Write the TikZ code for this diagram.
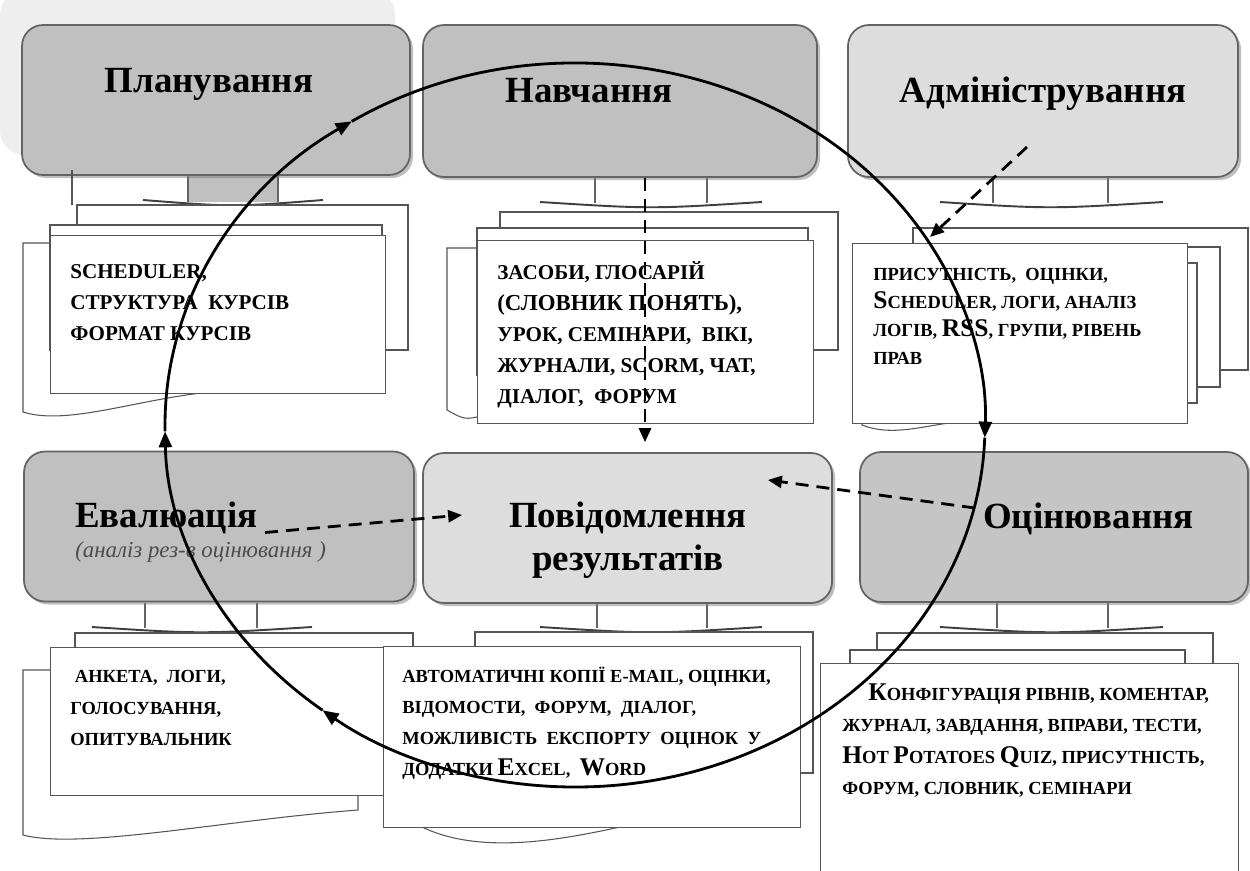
\documentclass[tikz,border=0pt]{standalone}
\usepackage{fontspec}
\setmainfont{Liberation Serif}
\usepackage{tikz}
\usetikzlibrary{arrows.meta, positioning, shadows}
\definecolor{hdBase}{RGB}{192,192,192}
\definecolor{hdLight}{RGB}{221,221,221}
\definecolor{hdEdge}{RGB}{100,100,100}
\definecolor{docEdge}{RGB}{85,85,85}
\definecolor{haloGray}{RGB}{238,238,238}
\newcommand{\capx}[1]{{\fontsize{14.5}{17}\selectfont #1}}

\begin{document}
\begin{tikzpicture}[
    head/.style={rectangle, draw=hdEdge, line width=1pt, fill=hdBase, rounded corners=12pt, minimum width=7.8cm, minimum height=3.0cm, drop shadow={shadow xshift=0.06cm, shadow yshift=-0.06cm, opacity=0.5}},
    lt/.style={fill=hdLight},
    htxt/.style={font=\bfseries\fontsize{21}{24.4}\selectfont, inner sep=0pt},
    stemline/.style={draw=hdEdge, line width=0.8pt},
    brace/.style={draw=black!75, line width=1.1pt},
    doc/.style={draw=docEdge, line width=0.6pt, fill=white},
    itm/.style={anchor=north west, inner sep=0pt, align=left, font=\bfseries\fontsize{10.5}{17.6}\selectfont},
    itmbig/.style={font=\bfseries\fontsize{12}{17.6}\selectfont},
    cyc/.style={-{Triangle[length=3.2mm, width=2.6mm]}, line width=1.6pt},
    darr/.style={-{Triangle[length=2.8mm, width=2.4mm]}, line width=1.6pt, dash pattern=on 0.26cm off 0.16cm},
]
\useasboundingbox (0,0) rectangle (25,-17.4);
\clip (0,0) rectangle (25,-17.4);
\fill[white] (0,0) rectangle (25,-17.4);

% soft grey halo behind the first header
\fill[haloGray, rounded corners=14pt] (0,0.2) rectangle (7.9,-3.1);

% ========== STEMS under the headers ==========
\fill[hdBase] (3.76,-3.5) rectangle (5.56,-4.04);
\draw[stemline] (3.76,-3.5) -- (3.76,-4.04) (5.56,-3.5) -- (5.56,-4.04);
\draw[brace] (2.86,-4.0) .. controls (4.66,-4.14) .. (6.46,-4.0);

\draw[stemline] (11.9,-3.54) -- (11.9,-4.06) (14.14,-3.54) -- (14.14,-4.06);
\draw[brace] (10.8,-4.04) .. controls (13.02,-4.18) .. (15.24,-4.04);

\draw[stemline] (19.86,-3.54) -- (19.86,-4.06) (22.16,-3.54) -- (22.16,-4.06);
\draw[brace] (18.8,-4.04) .. controls (21.01,-4.18) .. (23.26,-4.04);

\draw[stemline] (2.9,-12.06) -- (2.9,-12.56) (5.14,-12.06) -- (5.14,-12.56);
\draw[brace] (1.84,-12.54) .. controls (4.02,-12.68) .. (6.24,-12.54);

\draw[stemline] (11.94,-12.06) -- (11.94,-12.56) (14.14,-12.06) -- (14.14,-12.56);
\draw[brace] (10.8,-12.54) .. controls (13.04,-12.68) .. (15.24,-12.54);

\draw[stemline] (19.94,-12.04) -- (19.94,-12.56) (22.16,-12.04) -- (22.16,-12.56);
\draw[brace] (18.8,-12.54) .. controls (21.05,-12.68) .. (23.26,-12.54);

% ========== ROW 1 (headers) ==========
\node[head, minimum width=7.76cm] at (4.32,-2.0) (plan) {};
\node[head, minimum width=7.88cm, minimum height=3.04cm] at (12.4,-2.02) (learn) {};
\node[head, lt, minimum height=3.04cm] at (20.86,-2.02) (admin) {};

\node[htxt, anchor=base] at (4.18,-1.84) (plan-t) {Планування};
\node[htxt, anchor=base] at (11.78,-2.04) (learn-t) {Навчання};
\node[htxt, anchor=base] at (20.86,-2.04) (admin-t) {Адміністрування};

% ========== ROW 1 (document stacks) ==========
% planning
\draw[docEdge, line width=0.6pt] (1.44,-3.4) -- (1.44,-4.1);
\draw[doc] (0.46,-4.86) -- (0.46,-8.24) .. controls (1.6,-8.6) and (3.6,-7.6) .. (5.54,-7.84) -- (5.54,-4.86) -- cycle;
\draw[doc] (1.54,-4.1) rectangle (8.16,-7.0);
\draw[doc] (1.0,-4.5) rectangle (7.64,-7.0);
\node[doc, anchor=north west, minimum width=6.7cm, minimum height=3.16cm] at (1.0,-4.7) (plandoc) {};
\node[itm, itmbig] at (1.4,-5.28) (plan-l) {SCHEDULER,\\СТРУКТУРА \ КУРСІВ\\ФОРМАТ КУРСІВ};

% learning
\draw[doc] (8.94,-4.96) -- (8.94,-8.2) .. controls (9.3,-8.4) .. (9.7,-8.3) -- (9.7,-4.96) -- cycle;
\draw[doc] (10.0,-4.24) rectangle (16.76,-7.0);
\draw[doc] (9.54,-4.56) rectangle (16.16,-7.5);
\node[doc, anchor=north west, minimum width=6.72cm, minimum height=3.66cm] at (9.54,-4.8) (learndoc) {};
\node[itm, itmbig] at (9.94,-5.22) (learn-l) {ЗАСОБИ, ГЛОСАРІЙ\\{\fontsize{13}{17.6}\selectfont(СЛОВНИК ПОНЯТЬ),}\\УРОК, СЕМІНАРИ, \ ВІКІ,\\ЖУРНАЛИ, SCORM, ЧАТ,\\ДІАЛОГ, \ ФОРУМ};

% administration
\draw[doc] (17.24,-5.0) -- (17.24,-8.5) .. controls (18.0,-8.8) and (18.8,-8.36) .. (19.6,-8.44) -- (19.6,-5.0) -- cycle;
\draw[doc] (18.26,-4.56) rectangle (24.96,-7.4);
\draw[doc] (17.6,-4.94) rectangle (24.4,-7.74);
\draw[doc] (17.4,-5.26) rectangle (23.94,-8.06);
\node[doc, anchor=north west, minimum width=6.7cm, minimum height=3.6cm] at (17.04,-4.86) (admindoc) {};
\node[itm, font=\bfseries\fontsize{10.5}{15.9}\selectfont] at (17.46,-5.36) (admin-l) {ПРИСУТНІСТЬ, \ ОЦІНКИ,\\\capx{S}CHEDULER, ЛОГИ, АНАЛІЗ\\ЛОГІВ, \capx{RSS}, ГРУПИ, РІВЕНЬ\\ПРАВ};

% ========== ROW 2 (headers) ==========
\node[head] at (4.38,-10.53) (eval) {};
\node[head, lt, minimum width=8.18cm] at (12.55,-10.56) (report) {};
\node[head, fill=hdBase!92!white, minimum width=7.76cm] at (21.08,-10.54) (assess) {};

\node[htxt, anchor=base west] at (1.5,-10.54) (eval-t) {Евалюація};
\node[anchor=base west, inner sep=0pt, font=\itshape\fontsize{13}{15}\selectfont, text=black!70] at (1.5,-11.14) (eval-s) {(аналіз рез-в оцінювання )};
\node[htxt, anchor=north, align=center] at (12.56,-10.03) (report-t) {Повідомлення\\результатів};
\node[htxt, anchor=base] at (21.77,-10.56) (assess-t) {Оцінювання};

% ========== ROW 2 (document stacks) ==========
% evaluation
\draw[doc] (0.46,-13.4) -- (0.46,-16.7) .. controls (1.6,-17.0) and (4.5,-16.4) .. (7.16,-16.2) -- (7.16,-13.4) -- cycle;
\draw[doc] (1.5,-12.66) rectangle (8.26,-15.5);
\node[doc, anchor=north west, minimum width=6.66cm, minimum height=2.96cm] at (1.0,-12.94) (evaldoc) {};
\node[itm, font=\bfseries\fontsize{10.5}{18}\selectfont] at (1.4,-13.4) (eval-l) {\ АНКЕТА, \ ЛОГИ,\\ГОЛОСУВАННЯ,\\ОПИТУВАЛЬНИК};

% report
\draw[doc] (8.44,-13.0) -- (8.44,-16.54) .. controls (9.6,-17.1) and (11.2,-16.8) .. (12.4,-16.54) -- (12.4,-13.0) -- cycle;
\draw[doc] (9.5,-12.64) rectangle (16.26,-15.46);
\node[doc, anchor=north west, minimum width=8.34cm, minimum height=3.62cm] at (7.66,-12.92) (reportdoc) {};
\node[itm] at (8.04,-13.33) (report-l) {АВТОМАТИЧНІ КОПІЇ E-MAIL, ОЦІНКИ,\\ВІДОМОСТИ, \ ФОРУМ, \ ДІАЛОГ,\\МОЖЛИВІСТЬ \ ЕКСПОРТУ \ ОЦІНОК \ У\\ДОДАТКИ \capx{E}XCEL, \ \capx{W}ORD};

% assessment
\draw[doc] (17.54,-12.66) rectangle (24.26,-15.0);
\draw[doc] (17.0,-13.0) rectangle (23.7,-15.0);
\node[doc, anchor=north west, minimum width=8.36cm, minimum height=4.4cm] at (16.4,-13.26) (assessdoc) {};
\node[itm, font=\bfseries\fontsize{10.5}{18}\selectfont] at (16.84,-13.66) (assess-l) {\hspace{0.52cm}\capx{К}ОНФІГУРАЦІЯ РІВНІВ, КОМЕНТАР,\\ЖУРНАЛ, ЗАВДАННЯ, ВПРАВИ, ТЕСТИ,\\\capx{H}OT \capx{P}OTATOES \capx{Q}UIZ, ПРИСУТНІСТЬ,\\ФОРУМ, СЛОВНИК, СЕМІНАРИ};

% ========== DASHED LINKS ==========
\draw[darr, shorten >=0.2cm] ([xshift=0.5cm]learn.south) -- ([xshift=0.5cm]learn.south |- report.north);
\draw[darr] ([shift={(-0.32,-0.92)}]admin.center) -- ([shift={(1.56,0.12)}]admindoc.north west);
\draw[darr] ([shift={(0.92,-0.12)}]eval.center) -- ([shift={(0.8,0.26)}]report.west);
\draw[darr] ([shift={(-1.58,0.38)}]assess.center) -- ([shift={(-1.3,0.96)}]report.east);

% ========== CYCLE (clockwise) ==========
\coordinate (ring) at (11.5,-8.5);
\draw[cyc] (ring) ++(181:8.2 and 7.24) arc[start angle=181, end angle=123, x radius=8.2, y radius=7.24];
\draw[cyc] (ring) ++(123:8.2 and 7.24) arc[start angle=123, end angle=-2, x radius=8.2, y radius=7.24];
\draw[cyc] (ring) ++(-2:8.2 and 7.24) arc[start angle=-2, end angle=-128, x radius=8.2, y radius=7.24];
\draw[cyc] (ring) ++(232:8.2 and 7.24) arc[start angle=232, end angle=181, x radius=8.2, y radius=7.24];

\end{tikzpicture}
\end{document}
